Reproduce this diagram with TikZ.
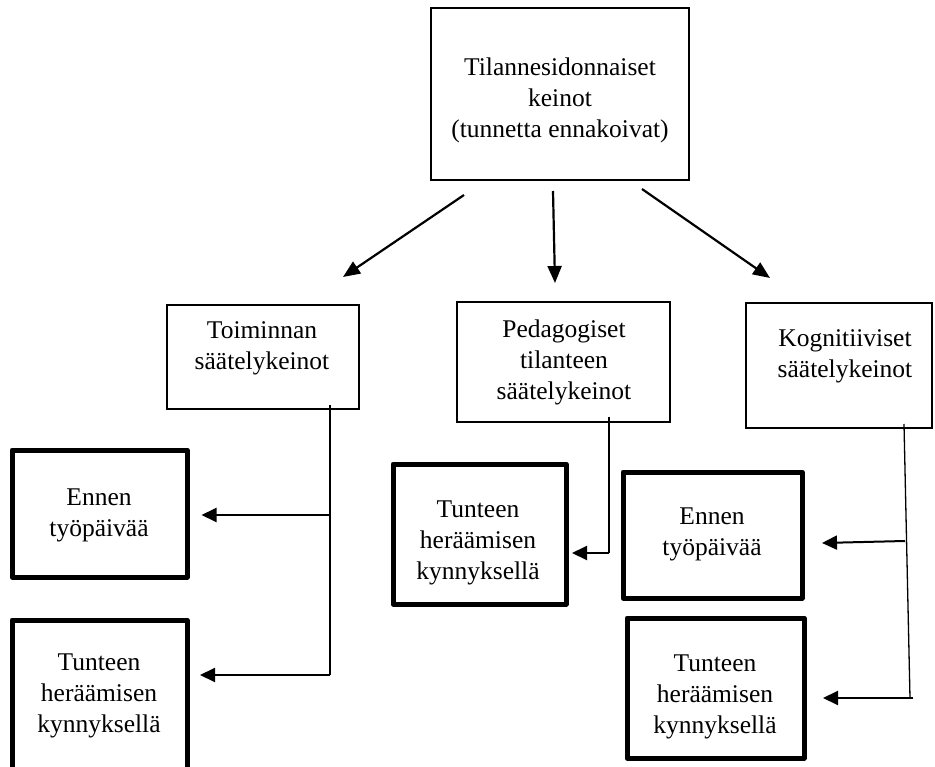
\documentclass[tikz,border=0pt]{standalone}
\usepackage{fontspec}
\setmainfont{Liberation Serif}
\usetikzlibrary{arrows.meta,calc}
\begin{document}
\begin{tikzpicture}[x=1pt,y=-1pt]
\tikzset{
  boxthin/.style={draw, line width=2.2pt, inner sep=0pt},
  boxthick/.style={draw, line width=5pt, inner sep=0pt, line join=round},
  lbl/.style={align=center, font=\fontsize{25.5}{31}\selectfont, inner sep=0pt},
  conn/.style={line width=1.3pt},
  arr/.style={line width=2pt, -{Triangle[length=15pt,width=14pt]}},
  toparr/.style={line width=2.2pt, -{Triangle[length=17pt,width=14pt]}},
}
\useasboundingbox (0,0) rectangle (935,767);
\clip (0,0) rectangle (935,767);
\fill[white] (0,0) rectangle (935,767);

% boxes
\node[boxthin, minimum width=258pt, minimum height=172pt] (top) at (560,94) {};
\node[lbl] (toptxt) at (560,100) {Tilannesidonnaiset\\keinot\\(tunnetta ennakoivat)};

\node[boxthin, minimum width=192pt, minimum height=104pt] (toim) at (263,357) {};
\node[lbl] (toimtxt) at (262,348) {Toiminnan\\säätelykeinot};

\node[boxthin, minimum width=213pt, minimum height=120pt] (ped) at (563.5,362) {};
\node[lbl] (pedtxt) at (564,362) {Pedagogiset\\tilanteen\\säätelykeinot};

\node[boxthin, minimum width=186pt, minimum height=125pt] (kog) at (839,365.5) {};
\node[lbl] (kogtxt) at (845,356) {Kognitiiviset\\säätelykeinot};

\node[boxthick, minimum width=175pt, minimum height=127pt] (enL) at (99.5,513.5) {};
\node[lbl] (enLtxt) at (99,515) {Ennen\\työpäivää};

\node[boxthick, minimum width=175pt, minimum height=170pt] (tuL) at (99.5,705) {};
\node[lbl] (tuLtxt) at (99,696) {Tunteen\\heräämisen\\kynnyksellä};

\node[boxthick, minimum width=173pt, minimum height=140pt] (tuM) at (479.5,534) {};
\node[lbl] (tuMtxt) at (478,543) {Tunteen\\heräämisen\\kynnyksellä};

\node[boxthick, minimum width=179pt, minimum height=126pt] (enR) at (712.5,535) {};
\node[lbl] (enRtxt) at (712,534) {Ennen\\työpäivää};

\node[boxthick, minimum width=177pt, minimum height=140pt] (tuR) at (715.5,688) {};
\node[lbl] (tuRtxt) at (715,697) {Tunteen\\heräämisen\\kynnyksellä};

% top arrows
\coordinate (t1s) at (464,195); \coordinate (t1e) at (343,277);
\coordinate (t2s) at (553,191); \coordinate (t2e) at (555,283);
\coordinate (t3s) at (642,189); \coordinate (t3e) at (770,278);
\draw[toparr] (t1s) -- (t1e);
\draw[toparr] (t2s) -- (t2e);
\draw[toparr] (t3s) -- (t3e);

% left column connectors
\coordinate (ls) at (330,405);
\coordinate (lm) at (330,515);
\coordinate (lb) at (330,675);
\coordinate (l1) at ($(enL.east)+(12,1.5)$);
\coordinate (l2) at (200,675);
\draw[conn] (ls) -- (lb);
\draw[arr] (lm) -- (l1);
\draw[arr] (lb) -- (l2);

% middle connectors
\coordinate (ms) at (609,417);
\coordinate (mb) at (609,553);
\coordinate (m1) at (572,553);
\draw[conn] (ms) -- (mb);
\draw[arr] (mb) -- (m1);

% right connectors
\coordinate (rs) at (904,424);
\coordinate (rm) at (905,541);
\coordinate (rb) at (910,698);
\coordinate (rbx) at (913,698);
\coordinate (r1) at (822,543);
\coordinate (r2) at (823,698);
\draw[conn] (rs) -- (rb);
\draw[arr] (rm) -- (r1);
\draw[arr] (rbx) -- (r2);
\end{tikzpicture}
\end{document}
